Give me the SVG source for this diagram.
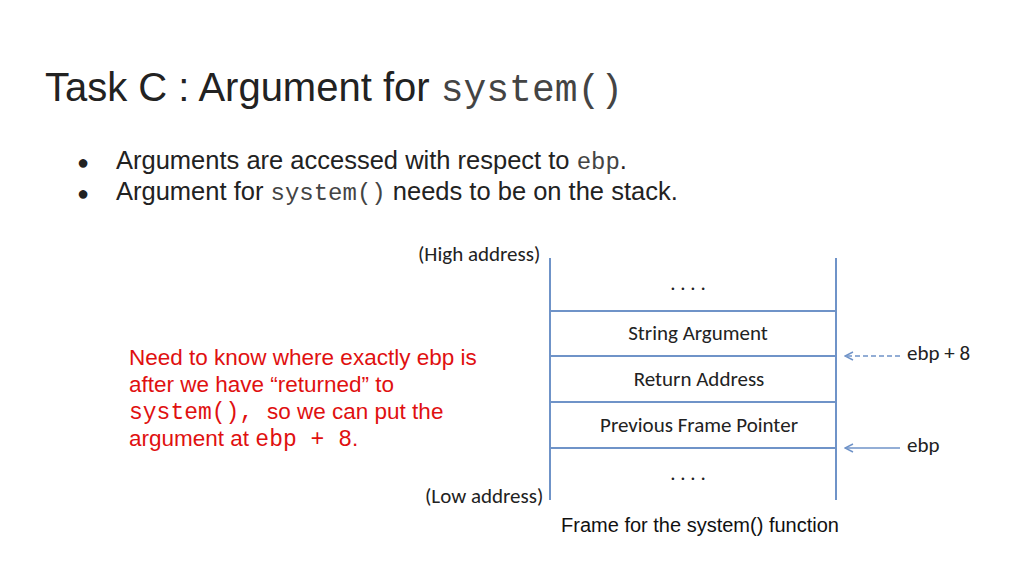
<svg xmlns="http://www.w3.org/2000/svg" width="1024" height="576" viewBox="0 0 1024 576">
<style>
.s{font-family:"Liberation Sans",Arial,sans-serif}
.m{font-family:"Liberation Mono","Courier New",monospace}
.c{font-family:Carlito,"Open Sans","Liberation Sans",sans-serif;font-size:21px;fill:#222}
.ln{stroke:#6f93c8;stroke-width:2;fill:none}
.ar{stroke:#6f93c8;stroke-width:1.5;fill:none}
</style>
<defs><marker id="a" markerWidth="10" markerHeight="10" refX="9" refY="5" orient="auto" markerUnits="userSpaceOnUse"><path d="M1,1 L9,5 L1,9" stroke="#6f93c8" stroke-width="1.5" fill="none"/></marker></defs>
<rect width="1024" height="576" fill="#fff"/>
<text x="45" y="101" class="s" font-size="40" fill="#222">Task C : Argument for <tspan class="m" font-size="38" fill="#444">system()</tspan></text>
<g class="s" font-size="25.5" fill="#222">
<text x="77" y="169" font-size="20">●</text><text x="116" y="169">Arguments are accessed with respect to <tspan class="m" font-size="24" fill="#444">ebp</tspan>.</text>
<text x="77" y="200" font-size="20">●</text><text x="116" y="200">Argument for <tspan class="m" font-size="24" fill="#444">system()</tspan> needs to be on the stack.</text>
</g>
<g class="s" font-size="22.5" fill="#e01010">
<text x="129" y="365">Need to know where exactly ebp is</text>
<text x="129" y="392">after we have “returned” to</text>
<text x="129" y="419"><tspan class="m" font-size="23">system(), </tspan>so we can put the</text>
<text x="129" y="446">argument at <tspan class="m" font-size="23">ebp + 8</tspan>.</text>
</g>
<g id="stack">
<path class="ln" d="M550,258V500M836,258V500M550,311H836M550,356H836M550,402H836M550,448H836"/>
<text x="418" y="261" class="c">(High address)</text>
<text x="425" y="503" class="c">(Low address)</text>
<text x="688" y="290" class="c" text-anchor="middle">. . . .</text>
<text x="698" y="340" class="c" text-anchor="middle">String Argument</text>
<text x="699" y="386" class="c" text-anchor="middle">Return Address</text>
<text x="699" y="432" class="c" text-anchor="middle">Previous Frame Pointer</text>
<text x="688" y="480" class="c" text-anchor="middle">. . . .</text>
<text x="907" y="360" class="c">ebp + 8</text>
<text x="907" y="452" class="c">ebp</text>
<text x="700" y="532" class="s" font-size="20" fill="#111" text-anchor="middle">Frame for the system() function</text>
</g>
<g id="connectors">
<line class="ar" x1="900" y1="356" x2="845" y2="356" stroke-dasharray="5,3" marker-end="url(#a)"/>
<line class="ar" x1="900" y1="448" x2="845" y2="448" marker-end="url(#a)"/>
</g>
</svg>
